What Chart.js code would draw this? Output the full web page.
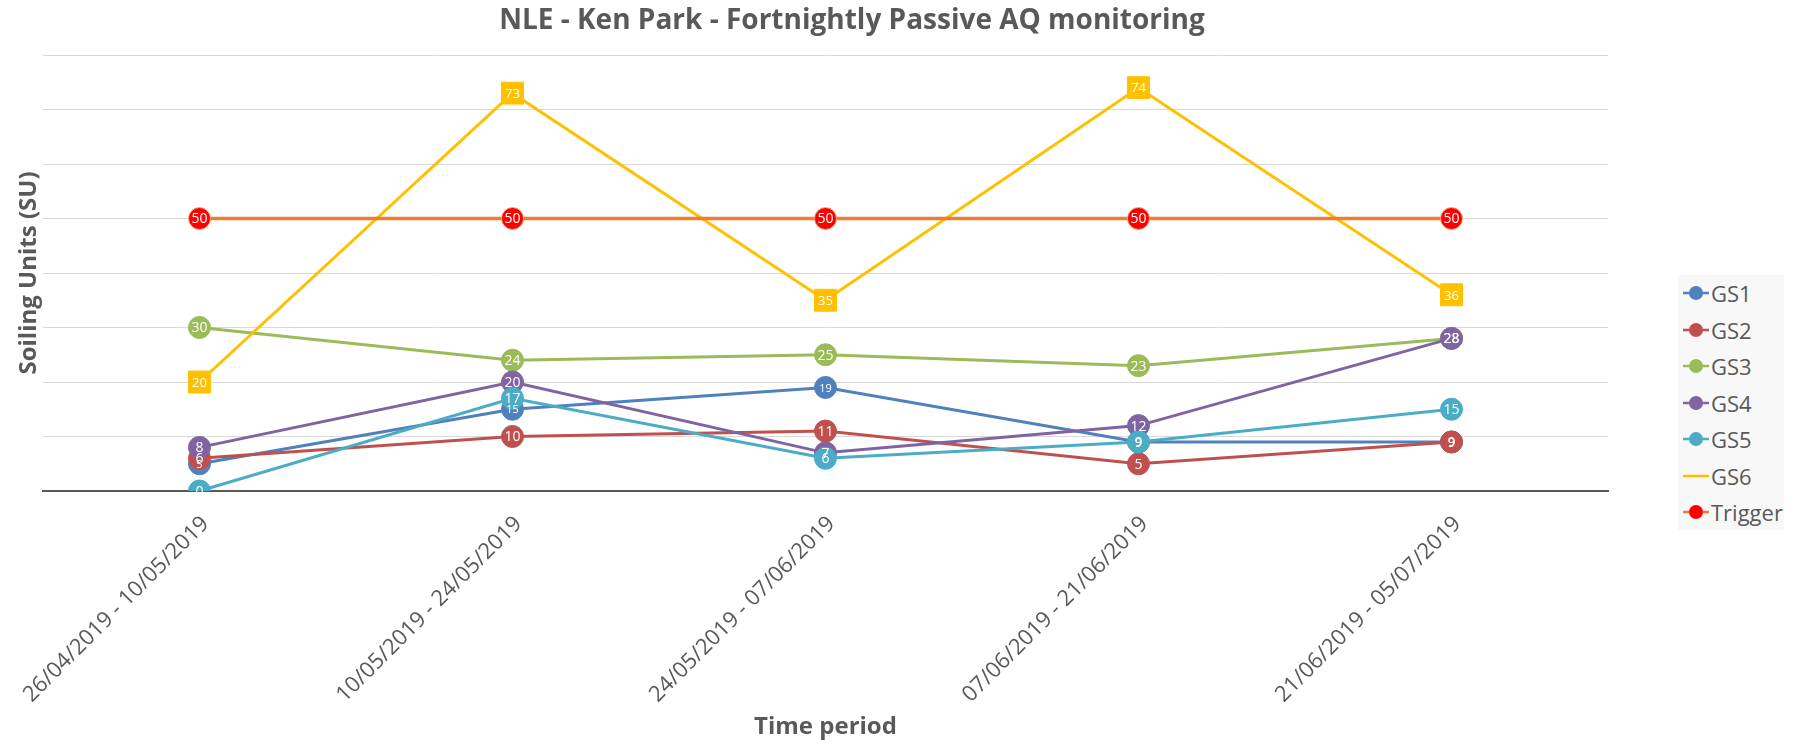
<!DOCTYPE html>
<html>
<head>
<meta charset="utf-8">
<title>NLE - Ken Park - Fortnightly Passive AQ monitoring</title>
<script src="https://cdn.jsdelivr.net/npm/chart.js@4"></script>
<style>
    body { margin: 0; background: #fff; font-family: "Open Sans", sans-serif; }
    #wrap { position: relative; width: 1794px; height: 744px; }
    #legend {
        position: absolute; left: 1678px; top: 275px; width: 106px; height: 255px;
        background: #f8f8f8; box-sizing: border-box; padding-top: 0;
    }
    .item { display: flex; align-items: center; height: 36.5px; color: #595959; font-size: 22px; }
    .item svg { margin-left: 5px; margin-right: 2px; }
</style>
</head>
<body>
<div id="wrap">
    <canvas id="chart" width="1794" height="744"></canvas>
    <div id="legend"></div>
</div>
<script>
const periods = [
    '26/04/2019 - 10/05/2019',
    '10/05/2019 - 24/05/2019',
    '24/05/2019 - 07/06/2019',
    '07/06/2019 - 21/06/2019',
    '21/06/2019 - 05/07/2019'
];

const gs1 = [5, 15, 19, 9, 9];
const gs2 = [6, 10, 11, 5, 9];
const gs3 = [30, 24, 25, 23, 28];
const gs4 = [8, 20, 7, 12, 28];
const gs5 = [0, 17, 6, 9, 15];
const gs6 = [20, 73, 35, 74, 36];
const trigger = [50, 50, 50, 50, 50];

const yMin = 0;
const yMax = 80;
const yStep = 10;

const series = [
    { label: 'GS1', data: gs1, color: '#4f81bd', marker: 'circle', labelSize: 11 },
    { label: 'GS2', data: gs2, color: '#c0504d', marker: 'circle', labelSize: 14 },
    { label: 'GS3', data: gs3, color: '#9bbb59', marker: 'circle', labelSize: 14 },
    { label: 'GS4', data: gs4, color: '#8064a2', marker: 'circle', labelSize: 14 },
    { label: 'GS5', data: gs5, color: '#4bacc6', marker: 'circle', labelSize: 14 },
    { label: 'GS6', data: gs6, color: '#ffc000', marker: 'rect', labelSize: 13 },
    { label: 'Trigger', data: trigger, color: '#ed7d31', marker: 'circle', labelSize: 14, pointColor: '#ff0000' }
];

// white value text inside each marker
const valueLabels = {
    id: 'valueLabels',
    afterDatasetsDraw(chart) {
        const ctx = chart.ctx;
        chart.data.datasets.forEach((ds, i) => {
            const meta = chart.getDatasetMeta(i);
            ctx.save();
            ctx.fillStyle = '#ffffff';
            ctx.textAlign = 'center';
            ctx.textBaseline = 'middle';
            ctx.font = ds.labelSize + 'px "Open Sans"';
            meta.data.forEach((pt, j) => {
                ctx.fillText(ds.data[j], pt.x, pt.y + 1);
            });
            ctx.restore();
        });
    }
};

const datasets = series.map((s, i) => ({
    label: s.label,
    data: s.data,
    borderColor: s.color,
    backgroundColor: s.color,
    borderWidth: s.label === 'Trigger' ? 3.5 : 3,
    pointStyle: s.marker,
    pointRadius: s.marker === 'rect' ? 15.5 : 11,
    pointBackgroundColor: s.pointColor || s.color,
    pointBorderColor: s.pointColor ? '#f4b183' : s.color,
    pointBorderWidth: 1,
    tension: 0,
    order: series.length - i,
    labelSize: s.labelSize
}));

new Chart(document.getElementById('chart').getContext('2d'), {
    type: 'line',
    data: { labels: periods, datasets: datasets },
    plugins: [valueLabels],
    options: {
        responsive: false,
        animation: false,
        layout: { padding: { left: 0, right: 90, top: 0, bottom: 0 } },
        plugins: {
            legend: { display: false },
            tooltip: { enabled: false },
            title: {
                display: true,
                text: 'NLE - Ken Park - Fortnightly Passive AQ monitoring',
                color: '#595959',
                font: { family: 'Open Sans', size: 28, weight: 'bold' },
                padding: { top: 4, bottom: 17.4 }
            }
        },
        scales: {
            x: {
                offset: true,
                grid: { display: false },
                border: { color: '#595959', width: 2 },
                ticks: {
                    color: '#595959',
                    font: { family: 'Open Sans', size: 22 },
                    maxRotation: 45,
                    minRotation: 45,
                    padding: 12,
                    labelOffset: 6
                },
                title: {
                    display: true,
                    text: 'Time period',
                    color: '#595959',
                    font: { family: 'Open Sans', size: 24, weight: 'bold' },
                    padding: { top: 0, bottom: 2 }
                },
                afterFit: (s) => { s.height = 253; }
            },
            y: {
                min: yMin,
                max: yMax,
                grid: { color: '#d9d9d9', lineWidth: 1, drawTicks: false },
                border: { display: false },
                ticks: { display: false, stepSize: yStep },
                title: {
                    display: true,
                    text: 'Soiling Units (SU)',
                    color: '#595959',
                    font: { family: 'Open Sans', size: 24, weight: 'bold' },
                    padding: { top: 15, bottom: 0 }
                },
                afterFit: (s) => { s.width = 43; }
            },
            yR: {
                position: 'right',
                grid: { display: false },
                border: { display: false },
                ticks: { display: false },
                afterFit: (s) => { s.width = 96; }
            }
        }
    }
});

// legend built from the series list
const legend = document.getElementById('legend');
series.forEach((s) => {
    const row = document.createElement('div');
    row.className = 'item';
    const dot = s.marker === 'rect' ? '' :
        '<circle cx="13" cy="8" r="7" fill="' + (s.pointColor || s.color) + '"/>';
    row.innerHTML = '<svg width="26" height="16"><line x1="0" y1="8" x2="26" y2="8" stroke="' +
        s.color + '" stroke-width="2.5"/>' + dot + '</svg><span>' + s.label + '</span>';
    legend.appendChild(row);
});
</script>
</body>
</html>
